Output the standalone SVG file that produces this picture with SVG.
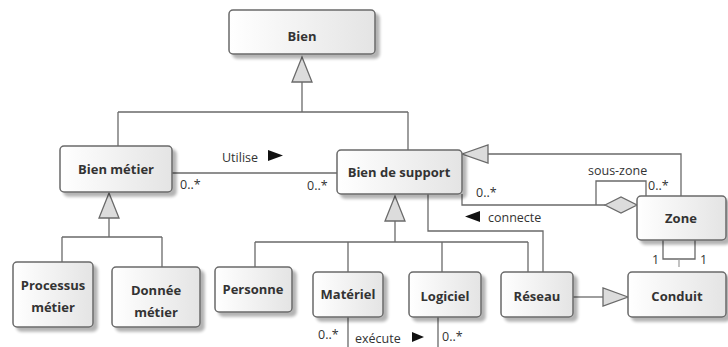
<svg xmlns="http://www.w3.org/2000/svg" width="728" height="347" viewBox="0 0 728 347">
<defs>
<linearGradient id="g" x1="0" y1="0" x2="1" y2="0">
<stop offset="0" stop-color="#ffffff"/>
<stop offset="1" stop-color="#e4e4e4"/>
</linearGradient>
<filter id="sh" x="-10%" y="-10%" width="130%" height="140%">
<feGaussianBlur in="SourceAlpha" stdDeviation="1.5"/>
<feOffset dx="4" dy="4" result="b"/>
<feComponentTransfer><feFuncA type="linear" slope="0.3"/></feComponentTransfer>
<feMerge><feMergeNode/><feMergeNode in="SourceGraphic"/></feMerge>
</filter>
</defs>
<style>
.box{fill:url(#g);stroke:#6a6a6a;stroke-width:1.5;filter:url(#sh)}
.n{font-family:"Open Sans","Noto Sans",sans-serif;font-size:13px;font-weight:bold;fill:#333;text-anchor:middle}
.l{font-family:"Open Sans","Noto Sans",sans-serif;font-size:12.5px;fill:#333}
.c{fill:none;stroke:#6a6a6a;stroke-width:1.3}
.tri{fill:#dcdcdc;stroke:#6a6a6a;stroke-width:1.3}
.ar{fill:#111}
</style>
<rect width="728" height="347" fill="#fff"/>
<g id="connectors">
<!-- Bien generalization -->
<path class="c" d="M302,82 V112 M118,112 H408 M118,112 V146 M408,112 V150"/>
<polygon class="tri" points="302,57 292,82 312,82"/>
<!-- Bien metier generalization -->
<path class="c" d="M109,218 V237 M62,237 H162 M62,237 V262 M162,237 V267"/>
<polygon class="tri" points="109,193 99,218 119,218"/>
<!-- Bien de support generalization -->
<path class="c" d="M395,221 V242 M255,242 H528 M255,242 V267 M348,242 V272 M442,242 V272 M528,242 V272"/>
<polygon class="tri" points="395,196 385,221 405,221"/>
<!-- Utilise -->
<path class="c" d="M172,173 H337"/>
<!-- Zone generalization -->
<path class="c" d="M488,154 H681 V196"/>
<polygon class="tri" points="462,154 488,145 488,163"/>
<!-- connecte -->
<path class="c" d="M462,194 V205 H605"/>
<polygon class="tri" points="605,205 621,197 637,205 621,213"/>
<!-- sous-zone -->
<path class="c" d="M596,205 V181 H646 V196"/>
<!-- reseau connect -->
<path class="c" d="M428,194 V231 H543 V272"/>
<!-- Reseau-Conduit -->
<path class="c" d="M573,297 H603"/>
<polygon class="tri" points="628,297 603,288 603,306"/>
<!-- Zone-Conduit -->
<path class="c" d="M663,240 V259 H695 V240"/>
<path d="M679,259 V267" stroke="#9a9a9a" stroke-width="1.2"/>
<!-- execute -->
<path class="c" d="M348,317 V347 M438,317 V347"/>
<!-- labels -->
<text class="l" x="222" y="162">Utilise</text>
<polygon class="ar" points="268,150 283,155.5 268,161"/>
<text class="l" x="180" y="189">0..*</text>
<text class="l" x="307" y="190">0..*</text>
<text class="l" x="476" y="197">0..*</text>
<polygon class="ar" points="465,216.5 480,211 480,222"/>
<text class="l" x="488" y="222">connecte</text>
<text class="l" x="588" y="175">sous-zone</text>
<text class="l" x="648" y="190">0..*</text>
<text class="l" x="652" y="264">1</text>
<text class="l" x="700" y="264">1</text>
<text class="l" x="318" y="339">0..*</text>
<text class="l" x="355" y="343">exécute</text>
<polygon class="ar" points="412,332 424,337 412,342"/>
<text class="l" x="442" y="341">0..*</text>
</g>
<g id="bien"><rect class="box" x="229" y="10" width="146" height="44" rx="4"/><text class="n" x="302" y="41">Bien</text></g>
<g id="bien-metier"><rect class="box" x="60" y="146" width="112" height="46" rx="4"/><text class="n" x="116" y="174">Bien métier</text></g>
<g id="bien-support"><rect class="box" x="337" y="150" width="125" height="44" rx="4"/><text class="n" x="399" y="177">Bien de support</text></g>
<g id="zone"><rect class="box" x="637" y="196" width="89" height="44" rx="4"/><text class="n" x="681" y="223">Zone</text></g>
<g id="processus"><rect class="box" x="13" y="262" width="80" height="65" rx="4"/><text class="n" x="53" y="290">Processus</text><text class="n" x="53" y="312">métier</text></g>
<g id="donnee"><rect class="box" x="112" y="267" width="88" height="60" rx="4"/><text class="n" x="156" y="295">Donnée</text><text class="n" x="156" y="317">métier</text></g>
<g id="personne"><rect class="box" x="215" y="267" width="77" height="45" rx="4"/><text class="n" x="253" y="294">Personne</text></g>
<g id="materiel"><rect class="box" x="313" y="272" width="70" height="45" rx="4"/><text class="n" x="348" y="299">Matériel</text></g>
<g id="logiciel"><rect class="box" x="409" y="272" width="72" height="45" rx="4"/><text class="n" x="445" y="301">Logiciel</text></g>
<g id="reseau"><rect class="box" x="501" y="272" width="72" height="45" rx="4"/><text class="n" x="537" y="301">Réseau</text></g>
<g id="conduit"><rect class="box" x="628" y="272" width="98" height="45" rx="4"/><text class="n" x="677" y="301">Conduit</text></g>
</svg>
